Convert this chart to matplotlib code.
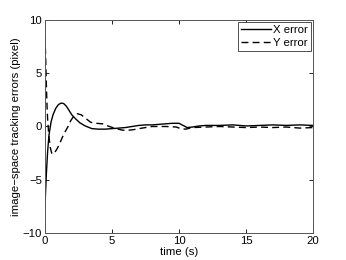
import matplotlib as mpl
mpl.use('Agg')
import matplotlib.pyplot as plt

# X error (solid)
t_x = [0, 0.1, 0.2, 0.3, 0.45, 0.6, 0.8, 1.0, 1.2, 1.4, 1.6, 1.8, 2.0, 2.3, 2.6,
       3.0, 3.5, 4.0, 4.5, 5.0, 5.5, 6.0, 6.5, 7.0, 7.5, 8.0, 8.5, 9.0, 9.5, 10.0,
       10.3, 10.6, 11.0, 11.5, 12, 13, 14, 15, 16, 17, 18, 19, 20]
x_err = [-7.5, -4.5, -2.3, -0.8, 0.4, 1.1, 1.7, 2.05, 2.2, 2.15, 1.9, 1.5, 1.1, 0.7, 0.35,
         0.05, -0.2, -0.25, -0.25, -0.2, -0.15, -0.1, 0.0, 0.1, 0.15, 0.15, 0.2, 0.25, 0.3, 0.3,
         0.1, -0.1, -0.05, 0.05, 0.1, 0.1, 0.15, 0.05, 0.1, 0.15, 0.1, 0.15, 0.1]

# Y error (dashed)
t_y = [0, 0.05, 0.1, 0.15, 0.2, 0.3, 0.4, 0.5, 0.6, 0.7, 0.9, 1.1, 1.3, 1.5, 1.7,
       1.9, 2.1, 2.4, 2.7, 3.0, 3.4, 3.8, 4.3, 4.8, 5.3, 5.8, 6.2, 6.6, 7.0, 7.5,
       8, 9, 9.8, 10.1, 10.5, 11, 12, 13, 14, 15, 16, 17, 18, 19, 20]
y_err = [8.5, 6.5, 4.0, 2.0, 0.6, -1.0, -2.0, -2.5, -2.6, -2.5, -2.1, -1.6, -1.0, -0.5, -0.05,
         0.5, 0.9, 1.2, 1.1, 0.8, 0.4, 0.3, 0.25, 0.0, -0.2, -0.35, -0.35, -0.3, -0.2, -0.1,
         0.0, 0.0, -0.05, -0.2, -0.25, -0.1, -0.05, 0.0, -0.05, -0.1, -0.05, -0.1, -0.05, -0.15, -0.1]

plt.rcParams['font.family'] = ['Liberation Sans', 'DejaVu Sans']
plt.rcParams['font.size'] = 8.2

fig = plt.figure(figsize=(3.46, 2.60), dpi=100)
ax = fig.add_axes([0.130, 0.104, 0.775, 0.819])
ax.plot(t_x, x_err, color='black', lw=1.0, label='X error')
ax.plot(t_y, y_err, color='black', lw=1.0, ls=(0, (5, 3)), label='Y error')

ax.set_xlim(0, 20)
ax.set_ylim(-10, 10)
ax.set_xticks([0, 5, 10, 15, 20])
ax.set_yticks([-10, -5, 0, 5, 10])
ax.tick_params(direction='in', top=True, right=True, length=3, width=0.6, pad=2)
for s in ax.spines.values():
    s.set_linewidth(0.7)
    s.set_color('#555555')
ax.set_xlabel('time (s)', labelpad=1)
ax.set_ylabel('image\u2212space tracking errors (pixel)', labelpad=1)

leg = ax.legend(loc='upper right', fancybox=False, edgecolor='#333333', framealpha=1,
                borderpad=0.3, handlelength=2.6, handletextpad=0.2, labelspacing=0.25,
                borderaxespad=0.15)
leg.get_frame().set_linewidth(0.6)

plt.savefig('out.png', dpi=100)
